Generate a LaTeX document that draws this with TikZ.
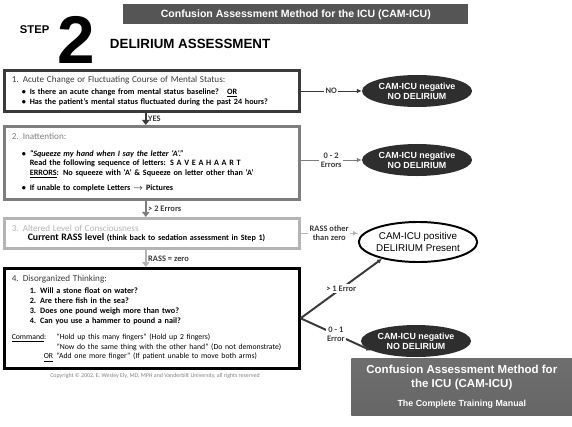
\documentclass[tikz,border=0pt]{standalone}
\usepackage{fontspec}
\setmainfont{Carlito}
\newfontfamily\arialf{Liberation Sans}
\usetikzlibrary{arrows.meta,shapes.geometric}

\definecolor{boxdark}{HTML}{3A3A3A}
\definecolor{boxmid}{HTML}{7E7E7E}
\definecolor{boxlight}{HTML}{B4B4B4}
\definecolor{ovalfill}{HTML}{2E2E2E}
\definecolor{bannerfill}{HTML}{555555}

\newcommand\bul{\hspace*{0.25cm}\makebox[0.2cm][l]{\textbullet}}
\newcommand\ttl{\fontsize{6.5}{7.5}\selectfont\mdseries}

\begin{document}
\begin{tikzpicture}[x=0.025cm, y=-0.025cm,
  stepbox/.style={draw, line width=1.8pt, anchor=north west, minimum width=7.375cm,
    text width=7.0cm, inner xsep=0.175cm, align=left,
    font=\fontsize{5.8}{6.8}\selectfont\bfseries},
  negoval/.style={ellipse, fill=ovalfill, text=white, align=center, inner sep=0pt,
    minimum width=2.75cm, minimum height=0.8cm,
    font=\arialf\bfseries\fontsize{6.3}{7.2}\selectfont},
  posoval/.style={ellipse, draw, line width=1.4pt, fill=white, align=center, inner sep=0pt,
    minimum width=2.7cm, minimum height=1.0cm, font=\arialf\fontsize{7}{8.4}\selectfont},
  arr/.style={-{Latex[length=1.2mm,width=1.2mm]}, line width=0.7pt},
  downarr/.style={-{Triangle[length=1.3mm,width=1.9mm]}, line width=1.4pt},
  lbl/.style={font=\fontsize{6}{6.6}\selectfont\bfseries, align=center, inner sep=1pt}
]
\useasboundingbox (0,0) rectangle (572,427);

% header
\node[anchor=base west, font=\arialf\bfseries\fontsize{8}{8}\selectfont] (step) at (15,34) {STEP};
\node[font=\arialf\bfseries\fontsize{48}{48}\selectfont, inner sep=0pt] (two) at (76,40) {2};
\node[anchor=base west, font=\arialf\bfseries\fontsize{9.5}{9.5}\selectfont] (title) at (105,49) {DELIRIUM ASSESSMENT};
\node[anchor=north west, fill=bannerfill, text=white, minimum width=8.625cm, minimum height=0.5cm,
  font=\arialf\bfseries\fontsize{7.5}{7.5}\selectfont] (topbanner) at (123,4)
  {Confusion Assessment Method for the ICU (CAM-ICU)};

% the four features
\node[stepbox, draw=boxdark, minimum height=1.025cm] (box1) at (3,69)
  {{\ttl\color{boxdark}1. Acute Change or Fluctuating Course of Mental Status:}\\[2pt]
   \bul Is there an acute change from mental status baseline?\quad\underline{OR}\\
   \bul Has the patient's mental status fluctuated during the past 24 hours?};
\node[stepbox, draw=boxmid, minimum height=1.825cm] (box2) at (3,125)
  {{\ttl\color{boxmid}2. Inattention:}\\[5pt]
   \bul\textit{``Squeeze my hand when I say the letter `A'.''}\\
   \hspace*{0.45cm}Read the following sequence of letters: S A V E A H A A R T\\
   \hspace*{0.45cm}\underline{ERRORS}: No squeeze with `A' \& Squeeze on letter other than `A'\\[4pt]
   \bul If unable to complete Letters $\rightarrow$ Pictures};
\node[stepbox, draw=boxlight, minimum height=0.75cm] (box3) at (3,217)
  {{\ttl\color{boxlight}3. Altered Level of Consciousness}\\
   \hspace*{0.4cm}{\fontsize{7}{8}\selectfont Current RASS level} (think back to sedation assessment in Step 1)};
\node[stepbox, draw=black, minimum height=2.5cm, font=\fontsize{5.8}{7.1}\selectfont\bfseries] (box4) at (3,267)
  {{\ttl\color{boxdark}4. Disorganized Thinking:}\\[2pt]
   \hspace*{0.45cm}1. Will a stone float on water?\\
   \hspace*{0.45cm}2. Are there fish in the sea?\\
   \hspace*{0.45cm}3. Does one pound weigh more than two?\\
   \hspace*{0.45cm}4. Can you use a hammer to pound a nail?\\[4pt]
   \mdseries\fontsize{5.5}{7}\selectfont
   \makebox[1.12cm][l]{\underline{Command}:}``Hold up this many fingers'' (Hold up 2 fingers)\\
   \hspace*{1.12cm}\mbox{``Now do the same thing with the other hand'' (Do not demonstrate)}\\
   \hspace*{0.8cm}\makebox[0.32cm][l]{\underline{OR}}\mbox{``Add one more finger'' (If patient unable to move both arms)}\\[2pt]};
\node[font=\fontsize{4.2}{5}\selectfont, text=gray] (copy) at (155,376)
  {Copyright \copyright{} 2002, E. Wesley Ely, MD, MPH and Vanderbilt University, all rights reserved};

% outcomes
\node[negoval] (neg1) at (417,91) {CAM-ICU negative\\NO DELIRIUM};
\node[negoval] (neg2) at (417,160) {CAM-ICU negative\\NO DELIRIUM};
\node[posoval] (pos) at (418,242) {CAM-ICU positive\\DELIRIUM Present};
\node[negoval] (neg3) at (416,341) {CAM-ICU negative\\NO DELIRIUM};

\node[anchor=north west, minimum width=5.525cm, minimum height=1.425cm, inner sep=0pt,
  top color=bannerfill!85, bottom color=bannerfill!120!black, text=white, align=center,
  font=\arialf\bfseries\fontsize{8.2}{10}\selectfont] (manual) at (351,358)
  {Confusion Assessment Method for\\the ICU (CAM-ICU)\\[4pt]{\fontsize{6.3}{7}\selectfont The Complete Training Manual}};

% connectors
\draw[arr, boxdark] (box1.east |- neg1) -- node[lbl, fill=white]{NO} (neg1.west);
\draw[arr, boxmid] (box2.east |- neg2) -- node[lbl, fill=white, text=boxdark]{0 - 2\\Errors} (neg2.west);
\draw[arr, boxlight] (box3.east) -- node[lbl, fill=white, text=boxdark]{RASS other\\than zero} (box3.east -| pos.west);
\draw[downarr, boxdark] ([xshift=-0.15cm]box1.south) -- node[lbl, right]{YES} ([xshift=-0.15cm]box2.north);
\draw[downarr, boxmid] ([xshift=-0.15cm]box2.south) -- node[lbl, right, text=boxdark]{> 2 Errors} ([xshift=-0.15cm]box3.north);
\draw[downarr, boxlight] ([xshift=-0.15cm]box3.south) -- node[lbl, right, text=boxdark]{RASS = zero} ([xshift=-0.15cm]box4.north);
\draw[arr, line width=1.4pt, boxdark] (box4.east) -- node[lbl, fill=white]{> 1 Error} (pos.205);
\draw[arr, line width=1.4pt, boxdark] (box4.east) -- node[lbl, fill=white]{0 - 1\\Error} (neg3.192);
\end{tikzpicture}
\end{document}
